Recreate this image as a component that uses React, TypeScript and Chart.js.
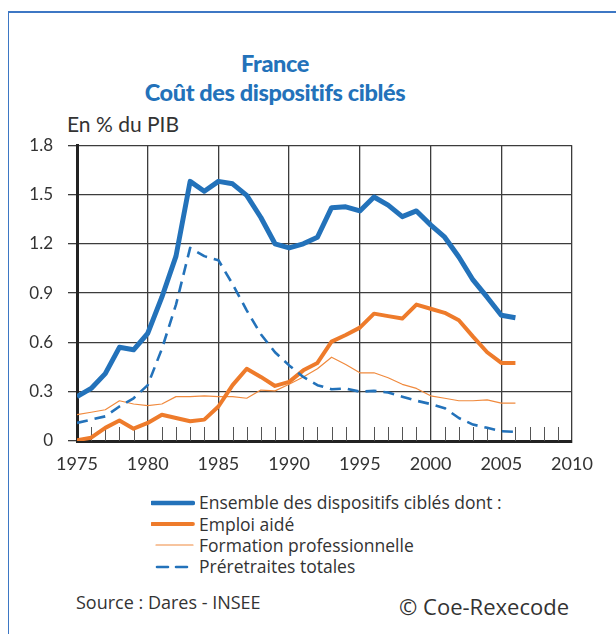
import React, { useEffect, useRef } from "react";
import { Chart, registerables } from "chart.js";

Chart.register(...registerables);

const years = [
  1975, 1976, 1977, 1978, 1979, 1980, 1981, 1982, 1983, 1984, 1985, 1986, 1987, 1988, 1989, 1990,
  1991, 1992, 1993, 1994, 1995, 1996, 1997, 1998, 1999, 2000, 2001, 2002, 2003, 2004, 2005, 2006,
];

const ensemble = [
  0.27, 0.32, 0.41, 0.57, 0.555, 0.655, 0.875, 1.125, 1.58, 1.52, 1.58, 1.565, 1.495, 1.36, 1.2, 1.175,
  1.2, 1.24, 1.42, 1.425, 1.4, 1.485, 1.435, 1.365, 1.4, 1.315, 1.24, 1.12, 0.98, 0.875, 0.765, 0.75,
];

const emploiAide = [
  0.005, 0.02, 0.08, 0.125, 0.075, 0.11, 0.16, 0.14, 0.12, 0.13, 0.21, 0.34, 0.44, 0.39, 0.335, 0.36,
  0.43, 0.475, 0.605, 0.645, 0.69, 0.775, 0.76, 0.745, 0.83, 0.805, 0.78, 0.735, 0.635, 0.54, 0.475, 0.475,
];

const formationPro = [
  0.16, 0.175, 0.19, 0.245, 0.225, 0.215, 0.225, 0.27, 0.27, 0.275, 0.27, 0.27, 0.26, 0.31, 0.305, 0.345,
  0.39, 0.44, 0.51, 0.465, 0.415, 0.415, 0.385, 0.345, 0.32, 0.275, 0.26, 0.245, 0.245, 0.25, 0.23, 0.23,
];

const preretraites = [
  0.11, 0.13, 0.15, 0.21, 0.26, 0.34, 0.56, 0.83, 1.175, 1.125, 1.1, 0.955, 0.795, 0.65, 0.54, 0.46,
  0.39, 0.34, 0.315, 0.32, 0.3, 0.305, 0.295, 0.27, 0.245, 0.225, 0.2, 0.14, 0.1, 0.08, 0.06, 0.055,
];

const seriesLabels = [
  "Ensemble des dispositifs ciblés dont :",
  "Emploi aidé",
  "Formation professionnelle",
  "Préretraites totales",
];

const xMin = 1975;
const xMax = 2010;
const xStep = 5;
const yMin = 0;
const yMax = 1.8;
const yStep = 0.3;

const BLUE = "#2372ba";
const ORANGE = "#ee7b2b";
const THIN_ORANGE = "#f08a3e";
const TEXT = "#333333";
const FONT = "Lato, 'Open Sans', sans-serif";
const WIDE_FONT = "'Open Sans', Lato, sans-serif";

const toPoints = (vals: number[]) => years.map((yr, i) => ({ x: yr, y: vals[i] }));

const minorTicks = {
  id: "minorTicks",
  beforeDatasetsDraw(chart: any) {
    const xs = chart.scales.x;
    const area = chart.chartArea;
    const ctx = chart.ctx;
    ctx.save();
    ctx.strokeStyle = "#555555";
    ctx.lineWidth = 1;
    for (let yr = xMin; yr <= xMax; yr++) {
      if (yr % xStep === 0) continue;
      const px = Math.round(xs.getPixelForValue(yr)) + 0.5;
      ctx.beginPath();
      ctx.moveTo(px, area.bottom - 14);
      ctx.lineTo(px, area.bottom);
      ctx.stroke();
    }
    ctx.restore();
  },
};

function LineChart() {
  const ref = useRef<HTMLCanvasElement | null>(null);
  useEffect(() => {
    if (!ref.current) return;
    const chart = new Chart(ref.current, {
      type: "line",
      data: {
        datasets: [
          {
            label: seriesLabels[0],
            data: toPoints(ensemble),
            borderColor: BLUE,
            borderWidth: 5,
            order: 0,
          },
          {
            label: seriesLabels[1],
            data: toPoints(emploiAide),
            borderColor: ORANGE,
            borderWidth: 4,
            order: 2,
          },
          {
            label: seriesLabels[2],
            data: toPoints(formationPro),
            borderColor: THIN_ORANGE,
            borderWidth: 1.2,
            order: 3,
          },
          {
            label: seriesLabels[3],
            data: toPoints(preretraites),
            borderColor: BLUE,
            borderWidth: 2.6,
            borderDash: [11, 7],
            order: 1,
          },
        ],
      },
      options: {
        responsive: false,
        animation: false,
        devicePixelRatio: 1,
        layout: { padding: { left: 0, right: 44, top: 17, bottom: 0 } },
        elements: {
          point: { radius: 0, hoverRadius: 0 },
          line: { tension: 0, borderJoinStyle: "round", borderCapStyle: "butt", fill: false },
        },
        plugins: {
          legend: { display: false },
          tooltip: { enabled: false },
          title: { display: false },
        },
        scales: {
          x: {
            type: "linear",
            min: xMin,
            max: xMax,
            afterFit: (s: any) => {
              s.height = 40;
            },
            ticks: {
              stepSize: xStep,
              color: TEXT,
              font: { family: FONT, size: 18 },
              padding: 12,
              maxRotation: 0,
              callback: (v: any) => String(v),
            },
            grid: { color: "#3c3c3c", lineWidth: 1.3, drawTicks: false },
            border: { display: true, color: "#222222", width: 3 },
          },
          y: {
            min: yMin,
            max: yMax,
            afterFit: (s: any) => {
              s.width = 77;
            },
            ticks: {
              stepSize: yStep,
              color: TEXT,
              font: { family: FONT, size: 17 },
              padding: 15,
              callback: (v: any) => (Number(v) === 0 ? "0" : Number(v).toFixed(1)),
            },
            grid: { color: "#3c3c3c", lineWidth: 1.3, drawTicks: true, tickLength: 9 },
            border: { display: true, color: "#222222", width: 3 },
          },
        },
      },
      plugins: [minorTicks],
    });
    return () => chart.destroy();
  }, []);
  return <canvas ref={ref} width={616} height={361} style={{ display: "block" }} />;
}

function LegendLine({ color, width, dash }: { color: string; width: number; dash?: string }) {
  return (
    <svg width={44} height={10} style={{ display: "block", flex: "none" }}>
      <line
        x1={dash ? 6 : width > 3 ? 1 : 5}
        y1={5}
        x2={42}
        y2={5}
        stroke={color}
        strokeWidth={width}
        strokeLinecap="round"
        strokeDasharray={dash}
      />
    </svg>
  );
}

export default function App() {
  const legendItems = [
    { label: seriesLabels[0], color: BLUE, width: 4.5 },
    { label: seriesLabels[1], color: ORANGE, width: 3.8 },
    { label: seriesLabels[2], color: THIN_ORANGE, width: 1.2 },
    { label: seriesLabels[3], color: BLUE, width: 2.6, dash: "11 8" },
  ];
  return (
    <div
      style={{
        position: "absolute",
        left: 0,
        top: 0,
        width: 616,
        height: 634,
        overflow: "hidden",
        background: "#ffffff",
        fontFamily: FONT,
        color: TEXT,
      }}
    >
      <div
        style={{
          position: "absolute",
          left: 8,
          top: 11,
          width: 700,
          height: 700,
          borderTop: "2px solid #3d77c4",
          borderLeft: "1px solid #3d77c4",
        }}
      />
      <div
        style={{
          position: "absolute",
          left: 0,
          top: 49,
          width: 550,
          textAlign: "center",
          color: BLUE,
          fontWeight: 900,
          fontSize: 23.5,
          lineHeight: "29px",
          letterSpacing: "-0.4px",
        }}
      >
        <div>France</div>
        <div>Coût des dispositifs ciblés</div>
      </div>
      <div
        style={{
          position: "absolute",
          left: 67,
          top: 111,
          fontSize: 21,
          lineHeight: "26px",
          color: TEXT,
        }}
      >
        En % du PIB
      </div>
      <div style={{ position: "absolute", left: 0, top: 120 }}>
        <LineChart />
      </div>
      <div style={{ position: "absolute", left: 151, top: 492, fontFamily: WIDE_FONT }}>
        {legendItems.map((it) => (
          <div key={it.label} style={{ display: "flex", alignItems: "center", height: 21.4 }}>
            <LegendLine color={it.color} width={it.width} dash={it.dash} />
            <span style={{ fontSize: 17.5, lineHeight: "21px", marginLeft: 4, whiteSpace: "nowrap" }}>
              {it.label}
            </span>
          </div>
        ))}
      </div>
      <div
        style={{
          position: "absolute",
          left: 76,
          top: 591,
          fontSize: 18,
          lineHeight: "22px",
          fontFamily: WIDE_FONT,
        }}
      >
        Source : Dares - INSEE
      </div>
      <div
        style={{
          position: "absolute",
          right: 616 - 569,
          top: 592,
          fontSize: 22,
          lineHeight: "28px",
          fontFamily: WIDE_FONT,
        }}
      >
        © Coe-Rexecode
      </div>
    </div>
  );
}
